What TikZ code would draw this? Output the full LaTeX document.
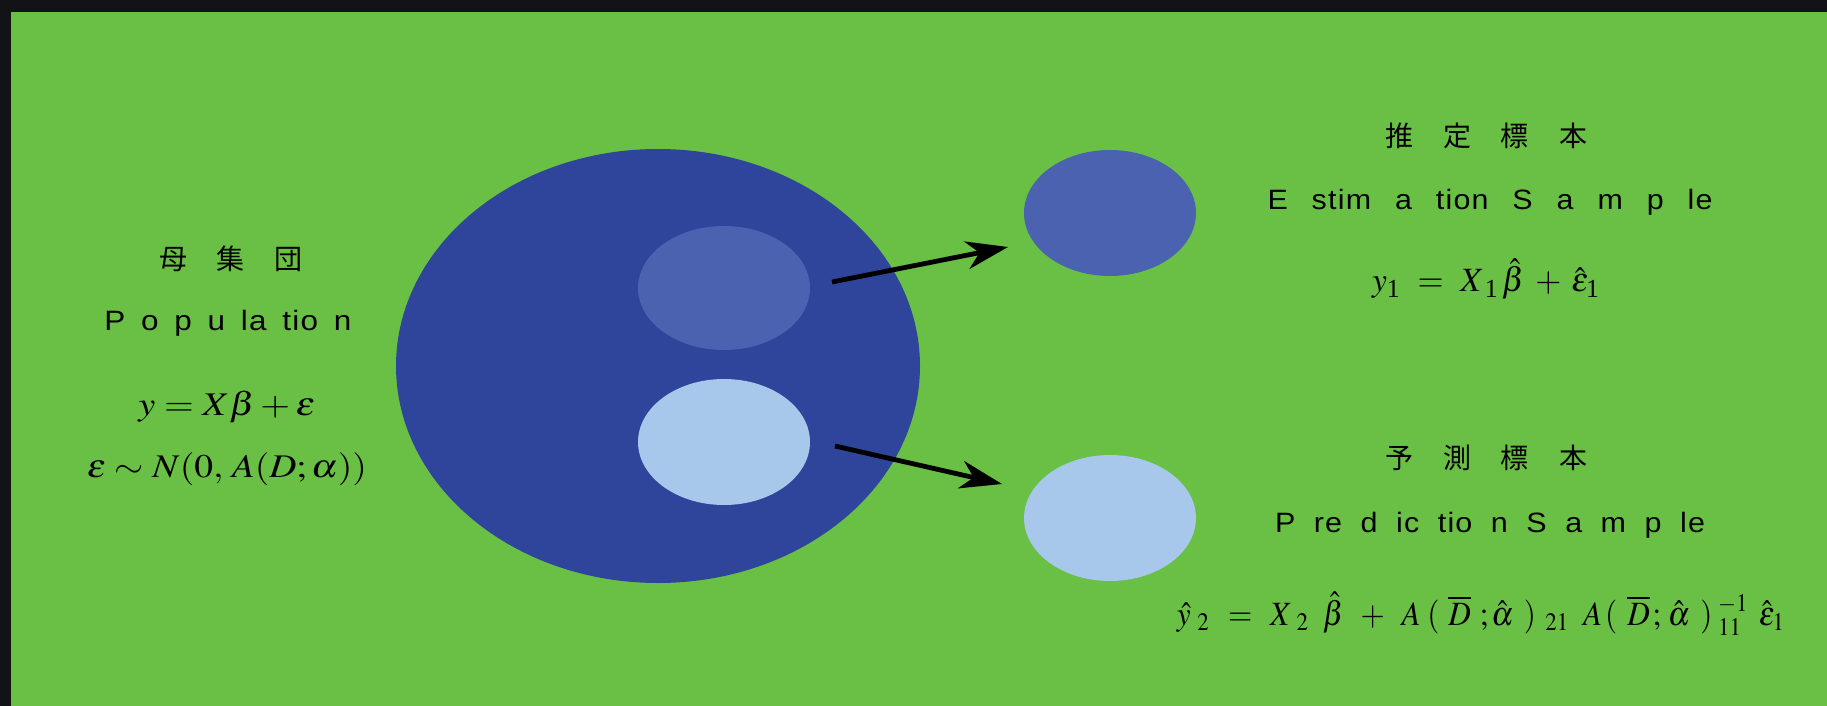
\documentclass[tikz,border=0pt]{standalone}
\usepackage{mathptmx}
\usepackage{fontspec}
\setmainfont{Liberation Serif}
\newfontfamily\labfont[LetterSpace=4]{Liberation Sans}
\newfontfamily\cjkfont{Noto Sans CJK JP}
\usetikzlibrary{shapes.geometric,arrows.meta}
\definecolor{bordc}{HTML}{121316}
\definecolor{bgc}{HTML}{6AC044}
\definecolor{darkb}{HTML}{2F459C}
\definecolor{midb}{HTML}{4A62B0}
\definecolor{lightb}{HTML}{A7C7EB}
\tikzset{
  blob/.style={ellipse, inner sep=0pt, draw=none},
  cjklab/.style={inner sep=0pt, font=\cjkfont\fontsize{14}{16}\selectfont},
  latlab/.style={inner sep=0pt, anchor=base, font=\labfont\fontsize{14}{16}\selectfont},
  eqleft/.style={inner sep=0pt, anchor=base, font=\fontsize{16.5}{19}\selectfont},
  eqright/.style={inner sep=0pt, anchor=base, font=\fontsize{17}{20}\selectfont},
  arr/.style={line width=2.4pt, -{Stealth[length=21pt, width=14pt, inset=6.5pt]}}
}
\newcommand{\cjkgap}{\hspace{15pt}}
\newcommand{\bigsub}[1]{\mbox{\fontsize{13}{13}\selectfont #1}}
\begin{document}
\begin{tikzpicture}[x=0.5pt,y=-0.5pt]
\useasboundingbox (0,0) rectangle (1827,706);
\fill[bordc] (0,0) rectangle (1827,706);
\fill[bgc] (11,12) rectangle (1827,706);

% ellipses
\node[blob, fill=darkb, minimum width=262pt, minimum height=217pt] (pop) at (658,366) {};
\node[blob, fill=midb, minimum width=86pt, minimum height=62pt] (est) at (724,288) {};
\node[blob, fill=lightb, minimum width=86pt, minimum height=63pt] (pred) at (724,442) {};
\node[blob, fill=midb, minimum width=86pt, minimum height=63pt] (estS) at (1110,213) {};
\node[blob, fill=lightb, minimum width=86pt, minimum height=63pt] (predS) at (1110,518) {};

% arrows
\coordinate (a1) at (832,282);
\coordinate (b1) at (1008,247);
\coordinate (a2) at (835,446);
\coordinate (b2) at (1002,484);
\draw[arr] (a1) -- (b1);
\draw[arr] (a2) -- (b2);

% left texts
\node[cjklab] (popj) at (231,259) {母\cjkgap 集\cjkgap 団};
\node[latlab] (pope) at (228,330) {\resizebox{123.5pt}{\height}{\spaceskip=7pt P o p u la tio n}};
\node[eqleft] (eq1) at (227,415) {\resizebox{88.5pt}{\height}{$y = X\beta + \varepsilon$}};
\node[eqleft] (eq2) at (227,477) {\resizebox{140pt}{\height}{$\varepsilon \sim N(0,\, A(D;\alpha))$}};

% right top texts
\node[cjklab] (estj) at (1486,136) {推\cjkgap 定\cjkgap 標\cjkgap 本};
\node[latlab] (este) at (1490,210) {\resizebox{222.5pt}{\height}{\spaceskip=11pt E stim a tion S a m p le}};
\node[eqright] (eq3) at (1486,292) {\resizebox{114pt}{\height}{$y_{\bigsub{1}}\hspace{0.5em}\mathord{=}\hspace{0.5em}X_{\hspace{0.14em}\bigsub{1}}\hspace{0.1em}\hat{\beta}\hspace{0.32em}\mathord{+}\hspace{0.3em}\hat{\varepsilon}_{\bigsub{1}}$}};

% right bottom texts
\node[cjklab] (predj) at (1486,458) {予\cjkgap 測\cjkgap 標\cjkgap 本};
\node[latlab] (prede) at (1490,532) {\resizebox{215pt}{\height}{\spaceskip=8.5pt P re d ic tio n S a m p le}};
\node[eqright] (eq4) at (1481,625) {\resizebox{304pt}{\height}{$\hat{y}_{\hspace{0.21em}2}\hspace{0.59em}\mathord{=}\hspace{0.57em}X_{\hspace{0.26em}2}\hspace{0.44em}\hat{\beta}\hspace{0.54em}\mathord{+}\hspace{0.54em}A\hspace{0.21em}(\hspace{0.29em}\overline{D}\hspace{0.29em}\mathord{;}\hspace{0.09em}\hat{\alpha}\hspace{0.33em})_{\hspace{0.3em}21}\hspace{0.44em}A\hspace{0.09em}(\hspace{0.33em}\overline{D}\hspace{0.09em}\mathord{;}\hspace{0.21em}\hat{\alpha}\hspace{0.33em})^{\hspace{0.18em}-1}_{\hspace{0.18em}11}\hspace{0.33em}\hat{\varepsilon}_{1}$}};
\end{tikzpicture}
\end{document}
